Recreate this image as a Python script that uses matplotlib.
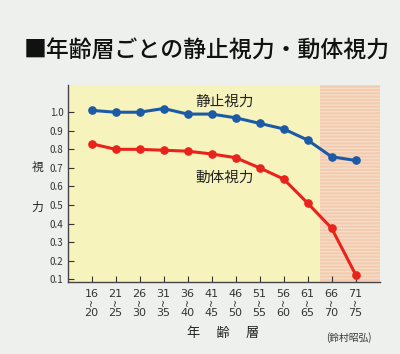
import numpy as np
import matplotlib.pyplot as plt

plt.rcParams['font.family'] = ['Noto Sans CJK JP', 'DejaVu Sans']

# data
age_lo = ['16', '21', '26', '31', '36', '41', '46', '51', '56', '61', '66', '71']
age_hi = ['20', '25', '30', '35', '40', '45', '50', '55', '60', '65', '70', '75']
static_acuity = [1.01, 1.00, 1.00, 1.02, 0.99, 0.99, 0.97, 0.94, 0.91, 0.85, 0.76, 0.74]
dynamic_acuity = [0.83, 0.80, 0.80, 0.795, 0.79, 0.775, 0.755, 0.70, 0.64, 0.51, 0.375, 0.125]
yticks = [0.1, 0.2, 0.3, 0.4, 0.5, 0.6, 0.7, 0.8, 0.9, 1.0]

bg = '#eef0ee'
fig = plt.figure( figsize=( 4.0, 3.54 ), dpi=100, facecolor=bg )
ax = fig.add_axes( [ 0.169, 0.203, 0.78, 0.557 ] )
ax.set_facecolor( '#f6f3bd' )

x = np.arange( len( age_lo ) )
ax.set_xlim( -1.0, 12.0 )
ax.set_ylim( 0.084, 1.147 )

# elderly band (striped)
ax.axvspan( 9.5, 12.1, facecolor='#f2cbb0', edgecolor='#f7dcc6', hatch='-----', zorder=0, lw=0 )

ax.plot( x, static_acuity, color='#1c5aa6', lw=2.2, marker='o', ms=5.2, zorder=3 )
ax.plot( x, dynamic_acuity, color='#e8231c', lw=2.2, marker='o', ms=5.2, zorder=3 )

ax.text( 5.55, 1.055, '静止視力', fontsize=10.5, ha='center', va='center', color='#222222' )
ax.text( 5.55, 0.645, '動体視力', fontsize=10.5, ha='center', va='center', color='#222222' )

ax.set_yticks( yticks, [ f'{v:.1f}' for v in yticks ] )
ax.set_xticks( x, age_lo )
ax.tick_params( axis='y', direction='in', length=4, labelsize=7, colors='#333333', pad=3 )
ax.tick_params( axis='x', direction='in', length=4, labelsize=8, colors='#333333', pad=5 )
for lab in ax.get_xticklabels():
    lab.set_family( [ 'DejaVu Sans' ] )
# wavy "from ~ to" mark and upper bound of each age band
for xi, hi in zip( x, age_hi ):
    ax.text( xi, -0.102, '~', transform=ax.get_xaxis_transform(), rotation=90, fontsize=7,
             ha='center', va='center', color='#333333', family=[ 'DejaVu Sans' ] )
    ax.text( xi, -0.158, hi, transform=ax.get_xaxis_transform(), fontsize=8,
             ha='center', va='center', color='#333333', family=[ 'DejaVu Sans' ] )

for s in [ 'top', 'right' ]:
    ax.spines[s].set_visible( False )
for s in [ 'left', 'bottom' ]:
    ax.spines[s].set_color( '#444444' )
    ax.spines[s].set_linewidth( 1.0 )

fig.text( 0.093, 1 - 167/354, '視', fontsize=8.5, ha='center', va='center', color='#222222' )
fig.text( 0.093, 1 - 207/354, '力', fontsize=8.5, ha='center', va='center', color='#222222' )
fig.text( 0.557, 1 - 333/354, '年　 齢　 層', fontsize=9.5, ha='center', va='center', color='#222222' )
fig.text( 0.872, 1 - 338/354, '(鈴村昭弘)', fontsize=7, ha='center', va='center', color='#333333' )
fig.text( 0.06, 1 - 51/354, '■年齢層ごとの静止視力・動体視力', fontsize=16.5, ha='left', va='center',
          color='#111111', fontweight='medium' )

fig.savefig( 'out.png', dpi=100, facecolor=bg )
